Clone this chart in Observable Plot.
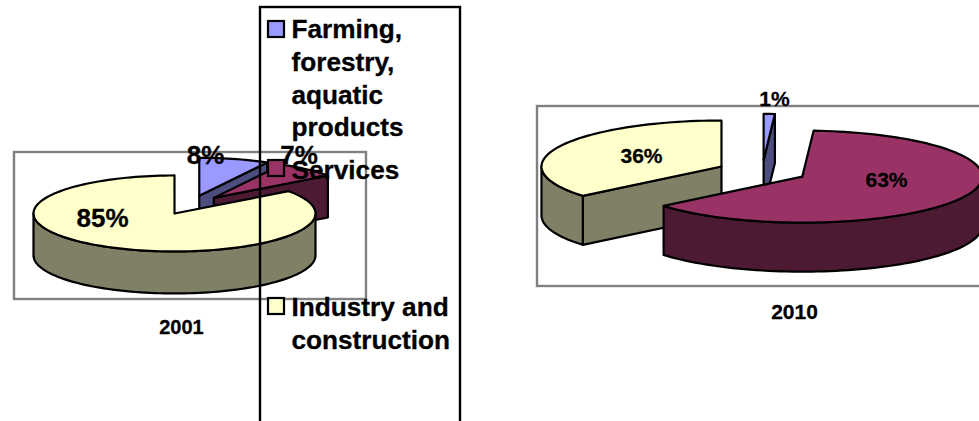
<!DOCTYPE html>
<html>
<head>
<meta charset="utf-8">
<script src="https://cdn.jsdelivr.net/npm/d3@7"></script>
<script src="https://cdn.jsdelivr.net/npm/@observablehq/plot@0.6"></script>
<style>html,body{margin:0;padding:0;background:#fff}svg{display:block}</style>
</head>
<body>
<div id="chart"></div>
<script>
// Data
const categories = ["Farming, forestry, aquatic products", "Services", "Industry and construction"];
const share2001 = [8, 7, 85];
const share2010 = [1, 63, 36];
const years = ["2001", "2010"];

// Styles and layout, separate from the data
const topColors = ["#9999FF", "#993366", "#FFFFCC"];
const sideColors = ["#4D4D80", "#4D1A33", "#808066"];
const font = "Liberation Sans";
const ink = "#000";
const pie2001 = {cx: 190, cy: 204.5, rx: 141, ry: 38, depth: 42, explode: 0.25, order: [0, 1, 2]};
const pie2010 = {cx: 761.7, cy: 170.9, rx: 180, ry: 46, depth: 49, explode: 0.25, order: [0, 2, 1]};
const legendRows = [
  {lines: ["Farming,", "forestry,", "aquatic", "products"], baselines: [37, 70, 103, 135], box: [268, 21]},
  {lines: ["Services"], baselines: [178], box: [268, 160]},
  {lines: ["Industry and", "construction"], baselines: [315, 348], box: [268, 298]}
];

const rad = d => d * Math.PI / 180;

function pieMarks(values, p) {
  const total = d3.sum(values);
  let acc = 0;
  const slices = values.map((v, i) => {
    const a0 = acc / total * 360;
    acc += v;
    const a1 = acc / total * 360;
    const mid = rad((a0 + a1) / 2);
    const ox = p.cx + p.explode * p.rx * Math.sin(mid);
    const oy = p.cy - p.explode * p.ry * Math.cos(mid);
    return {i, a0, a1, ox, oy};
  });
  const marks = [];
  const poly = (pts, fill) => marks.push(Plot.line([...pts, pts[0]], {
    x: "x", y: "y", fill, stroke: ink, strokeWidth: 2.2, strokeLinejoin: "round"
  }));
  for (const k of p.order) {
    const {i, a0, a1, ox, oy} = slices[k];
    const at = (a, dz = 0) => ({x: ox + p.rx * Math.sin(rad(a)), y: oy - p.ry * Math.cos(rad(a)) + dz});
    const arc = (from, to, dz = 0) => {
      const n = Math.max(2, Math.ceil((to - from) / 2));
      return d3.range(n + 1).map(j => at(from + (to - from) * j / n, dz));
    };
    const apex = {x: ox, y: oy};
    const apexLow = {x: ox, y: oy + p.depth};
    // radial walls that face the viewer
    if (Math.sin(rad(a0)) < -1e-6) poly([apex, at(a0), at(a0, p.depth), apexLow], sideColors[i]);
    if (Math.sin(rad(a1)) > 1e-6) poly([apex, at(a1), at(a1, p.depth), apexLow], sideColors[i]);
    // outer wall on the front half
    const w0 = Math.max(a0, 90), w1 = Math.min(a1, 270);
    if (w1 > w0) poly([...arc(w0, w1), ...arc(w0, w1, p.depth).reverse()], sideColors[i]);
    // top face
    poly([apex, ...arc(a0, a1)], topColors[i]);
  }
  return marks;
}

const label = (text, x, y, size) => Plot.text([text], {
  x: () => x, y: () => y, text: d => d, fontSize: size, fontWeight: "bold", fontFamily: font,
  textAnchor: "middle", lineAnchor: "bottom", fill: ink, stroke: ink, strokeWidth: 0.3
});
const frame = (x1, y1, x2, y2, stroke, strokeWidth) => Plot.rect([0], {
  x1: () => x1, y1: () => y1, x2: () => x2, y2: () => y2, fill: "none", stroke, strokeWidth
});

const legendMarks = [frame(260, 7, 460, 440, ink, 2.4)];
legendRows.forEach((row, i) => {
  const [bx, by] = row.box;
  legendMarks.push(Plot.rect([0], {
    x1: () => bx, y1: () => by, x2: () => bx + 16, y2: () => by + 16,
    fill: topColors[i], stroke: ink, strokeWidth: 2.2
  }));
  row.lines.forEach((t, j) => legendMarks.push(Plot.text([t], {
    x: () => 291, y: () => row.baselines[j], text: d => d, fontSize: 26.2, fontWeight: "bold",
    fontFamily: font, textAnchor: "start", lineAnchor: "bottom", fill: ink, stroke: ink, strokeWidth: 0.3
  })));
});

const chart = Plot.plot({
  width: 979, height: 421, margin: 0,
  style: {background: "#fff", overflow: "hidden"},
  x: {domain: [0, 979], range: [0, 979], axis: null},
  y: {domain: [0, 421], range: [0, 421], axis: null},
  marks: [
    frame(14, 152, 366, 299, "#808080", 2.4),
    ...pieMarks(share2001, pie2001),
    label(`${share2001[0]}%`, 205, 163, 26),
    label(`${share2001[1]}%`, 298.5, 163, 26),
    label(`${share2001[2]}%`, 102, 226, 26),
    label(years[0], 181, 333, 20),
    frame(537, 106, 990, 286, "#808080", 2.4),
    ...pieMarks(share2010, pie2010),
    label(`${share2010[0]}%`, 774, 105, 21),
    label(`${share2010[1]}%`, 886, 186, 21),
    label(`${share2010[2]}%`, 641, 162, 21),
    label(years[1], 794, 318, 21),
    ...legendMarks
  ]
});
document.getElementById("chart").append(chart);
</script>
</body>
</html>
